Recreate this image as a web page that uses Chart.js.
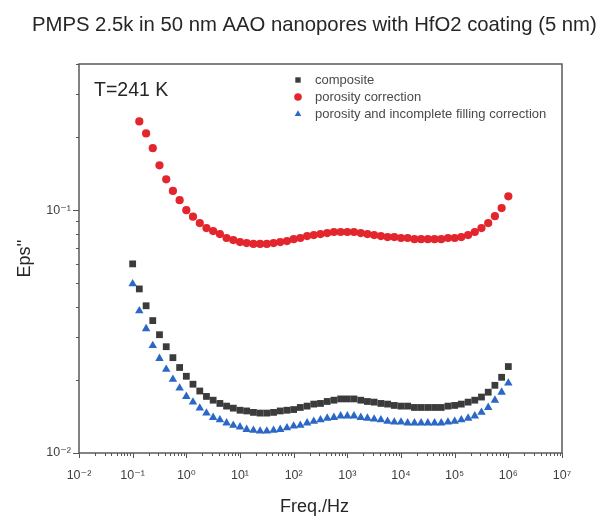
<!DOCTYPE html>
<html>
<head>
<meta charset="utf-8">
<script src="https://cdn.jsdelivr.net/npm/chart.js@4.4.1/dist/chart.umd.min.js"></script>
<style>
  html, body { margin: 0; padding: 0; background: #ffffff; }
  #wrap { width: 597px; height: 516px; }
</style>
</head>
<body>
<div id="wrap"><canvas id="c" width="597" height="516"></canvas></div>
<script>
// Dielectric loss of PMPS 2.5k in coated AAO nanopores, T = 241 K
const chartTitle = 'PMPS 2.5k in 50 nm AAO nanopores with HfO2 coating (5 nm)';
const tempLabel = 'T=241 K';
const xAxisTitle = 'Freq./Hz';
const yAxisTitle = "Eps''";
const seriesNames = ['composite', 'porosity correction', 'porosity and incomplete filling correction'];

// Measurement frequencies (Hz), 8 points per decade
const frequencies = [
  0.1, 0.133, 0.178, 0.237, 0.316, 0.422, 0.562, 0.75,
  1, 1.33, 1.78, 2.37, 3.16, 4.22, 5.62, 7.5,
  10, 13.3, 17.8, 23.7, 31.6, 42.2, 56.2, 75,
  100, 133, 178, 237, 316, 422, 562, 750,
  1e3, 1.33e3, 1.78e3, 2.37e3, 3.16e3, 4.22e3, 5.62e3, 7.5e3,
  1e4, 1.33e4, 1.78e4, 2.37e4, 3.16e4, 4.22e4, 5.62e4, 7.5e4,
  1e5, 1.33e5, 1.78e5, 2.37e5, 3.16e5, 4.22e5, 5.62e5, 7.5e5,
  1e6
];

const composite = [
  0.0601, 0.0474, 0.0404, 0.0351, 0.0307, 0.0274, 0.0247, 0.0225,
  0.0207, 0.0192, 0.0180, 0.0171, 0.0165, 0.0160, 0.0156, 0.0153,
  0.0150, 0.0149, 0.0147, 0.0146, 0.0146, 0.0147, 0.0149, 0.0150,
  0.0151, 0.0154, 0.0156, 0.0159, 0.0160, 0.0163, 0.0165, 0.0167,
  0.0167, 0.0167, 0.0165, 0.0163, 0.0162, 0.0160, 0.0159, 0.0157,
  0.0156, 0.0156, 0.0154, 0.0154, 0.0154, 0.0154, 0.0154, 0.0156,
  0.0157, 0.0159, 0.0162, 0.0165, 0.0170, 0.0178, 0.0190, 0.0205,
  0.0227
];

const porosityCorrected = [
  null, 0.232, 0.207, 0.180, 0.153, 0.134, 0.120, 0.110,
  0.100, 0.094, 0.0885, 0.0844, 0.0820, 0.0797, 0.0768, 0.0753,
  0.0739, 0.0732, 0.0726, 0.0726, 0.0726, 0.0732, 0.0739, 0.0746,
  0.0760, 0.0768, 0.0782, 0.0790, 0.0797, 0.0805, 0.0813, 0.0813,
  0.0813, 0.0813, 0.0805, 0.0797, 0.0790, 0.0782, 0.0775, 0.0775,
  0.0768, 0.0768, 0.0760, 0.0760, 0.0760, 0.0760, 0.0760, 0.0768,
  0.0768, 0.0775, 0.0790, 0.0813, 0.0844, 0.0885, 0.0945, 0.102,
  0.114
];

const fillingCorrected = [
  0.0497, 0.0385, 0.0325, 0.0277, 0.0245, 0.0221, 0.0201, 0.0185,
  0.0171, 0.0162, 0.0153, 0.0146, 0.0140, 0.0137, 0.0133, 0.0130,
  0.0128, 0.0125, 0.0124, 0.0123, 0.0123, 0.0124, 0.0125, 0.0127,
  0.0129, 0.0130, 0.0133, 0.0135, 0.0137, 0.0139, 0.0140, 0.0142,
  0.0142, 0.0142, 0.0140, 0.0139, 0.0138, 0.0137, 0.0135, 0.0134,
  0.0134, 0.0133, 0.0133, 0.0133, 0.0133, 0.0133, 0.0133, 0.0134,
  0.0135, 0.0137, 0.0139, 0.0142, 0.0147, 0.0154, 0.0165, 0.0178,
  0.0194
];

// Axis decades and their labels
const xDecades = [1e-2, 1e-1, 1e0, 1e1, 1e2, 1e3, 1e4, 1e5, 1e6, 1e7];
const xTickLabels = ['10\u207B\u00B2', '10\u207B\u00B9', '10\u2070', '10\u00B9', '10\u00B2', '10\u00B3', '10\u2074', '10\u2075', '10\u2076', '10\u2077'];
const yDecades = [1e-2, 1e-1];
const yTickLabels = ['10\u207B\u00B2', '10\u207B\u00B9'];

const colors = { composite: '#3b3b3b', porosity: '#e3252d', filling: '#2a67c6' };
const FONT = '"Liberation Sans", Arial, "DejaVu Sans", sans-serif';

function toPoints(values) {
  const pts = [];
  values.forEach((v, i) => { if (v !== null) pts.push({ x: frequencies[i], y: v }); });
  return pts;
}

// Frame, tick marks, titles, annotation and in-plot legend
const decorPlugin = {
  id: 'decor',
  afterDraw(chart) {
    const { ctx, chartArea: a, scales } = chart;
    const xs = scales.x, ys = scales.y;
    ctx.save();

    // plot frame
    ctx.strokeStyle = '#5a5a5a';
    ctx.lineWidth = 1.5;
    ctx.strokeRect(a.left, a.top, a.right - a.left, a.bottom - a.top);

    // tick marks (major + minor, outward)
    ctx.lineWidth = 1;
    ctx.strokeStyle = '#555';
    ctx.beginPath();
    for (let d = -2; d <= 7; d++) {
      for (let k = 1; k <= 9; k++) {
        const v = k * Math.pow(10, d);
        if (v > xs.max * 1.0001) break;
        const px = Math.round(xs.getPixelForValue(v)) + 0.5;
        const len = k === 1 ? 5 : 3;
        ctx.moveTo(px, a.bottom);
        ctx.lineTo(px, a.bottom + len);
      }
    }
    for (let d = -2; d <= 0; d++) {
      for (let k = 1; k <= 9; k++) {
        const v = k * Math.pow(10, d);
        if (v > ys.max * 1.0001) break;
        const py = Math.round(ys.getPixelForValue(v)) + 0.5;
        const len = k === 1 ? 6 : 3;
        ctx.moveTo(a.left, py);
        ctx.lineTo(a.left - len, py);
      }
    }
    ctx.stroke();

    // chart title
    ctx.fillStyle = '#262626';
    ctx.font = '20.3px ' + FONT;
    ctx.textAlign = 'left';
    ctx.textBaseline = 'middle';
    ctx.fillText(chartTitle, 32, 25);

    // axis titles
    ctx.font = '18px ' + FONT;
    ctx.textAlign = 'center';
    ctx.fillText(xAxisTitle, (a.left + a.right) / 2 - 6, 507);
    ctx.save();
    ctx.translate(25, (a.top + a.bottom) / 2);
    ctx.rotate(-Math.PI / 2);
    ctx.fillText(yAxisTitle, 0, 0);
    ctx.restore();

    // temperature annotation
    ctx.font = '19.5px ' + FONT;
    ctx.textAlign = 'left';
    ctx.fillText(tempLabel, 94, 91);

    // legend
    const rows = [80, 97, 114];
    ctx.font = '13px ' + FONT;
    chart.data.datasets.forEach((ds, i) => {
      ctx.fillStyle = ds.backgroundColor;
      ctx.strokeStyle = ds.borderColor;
      Chart.helpers.drawPoint(ctx, { pointStyle: ds.pointStyle, radius: 3.8, rotation: 0, borderWidth: 0 }, 298, rows[i]);
      ctx.fillStyle = '#4a4a4a';
      ctx.textBaseline = 'middle';
      ctx.fillText(ds.label, 315, rows[i]);
    });

    ctx.restore();
  }
};

new Chart(document.getElementById('c'), {
  type: 'scatter',
  data: {
    datasets: [
      {
        label: seriesNames[0],
        data: toPoints(composite),
        pointStyle: 'rect',
        pointRadius: 4.8,
        backgroundColor: colors.composite,
        borderColor: colors.composite,
        borderWidth: 0
      },
      {
        label: seriesNames[1],
        data: toPoints(porosityCorrected),
        pointStyle: 'circle',
        pointRadius: 4.1,
        backgroundColor: colors.porosity,
        borderColor: colors.porosity,
        borderWidth: 0
      },
      {
        label: seriesNames[2],
        data: toPoints(fillingCorrected),
        pointStyle: 'triangle',
        pointRadius: 4.9,
        backgroundColor: colors.filling,
        borderColor: colors.filling,
        borderWidth: 0
      }
    ]
  },
  options: {
    responsive: false,
    animation: false,
    devicePixelRatio: 1,
    layout: { padding: { top: 64, right: 35, left: 0, bottom: 0 } },
    plugins: { legend: { display: false }, tooltip: { enabled: false }, title: { display: false } },
    elements: { point: { hoverRadius: 4 } },
    scales: {
      x: {
        type: 'logarithmic',
        min: 1e-2,
        max: 1e7,
        border: { display: false },
        grid: { display: false, drawTicks: false },
        afterBuildTicks(scale) { scale.ticks = xDecades.map(v => ({ value: v })); },
        afterFit(scale) { scale.height = 63; },
        ticks: {
          autoSkip: false,
          maxRotation: 0,
          padding: 15,
          color: '#404040',
          font: { family: FONT, size: 12.5 },
          callback(value) {
            const i = xDecades.findIndex(d => Math.abs(d - value) / d < 1e-6);
            return i >= 0 ? xTickLabels[i] : '';
          }
        }
      },
      y: {
        type: 'logarithmic',
        min: 1e-2,
        max: 0.4,
        border: { display: false },
        grid: { display: false, drawTicks: false },
        afterBuildTicks(scale) { scale.ticks = yDecades.map(v => ({ value: v })); },
        afterFit(scale) { scale.width = 79; },
        ticks: {
          autoSkip: false,
          padding: 8,
          color: '#404040',
          font: { family: FONT, size: 12.5 },
          callback(value) {
            const i = yDecades.findIndex(d => Math.abs(d - value) / d < 1e-6);
            return i >= 0 ? yTickLabels[i] : '';
          }
        }
      }
    }
  },
  plugins: [decorPlugin]
});
</script>
</body>
</html>
